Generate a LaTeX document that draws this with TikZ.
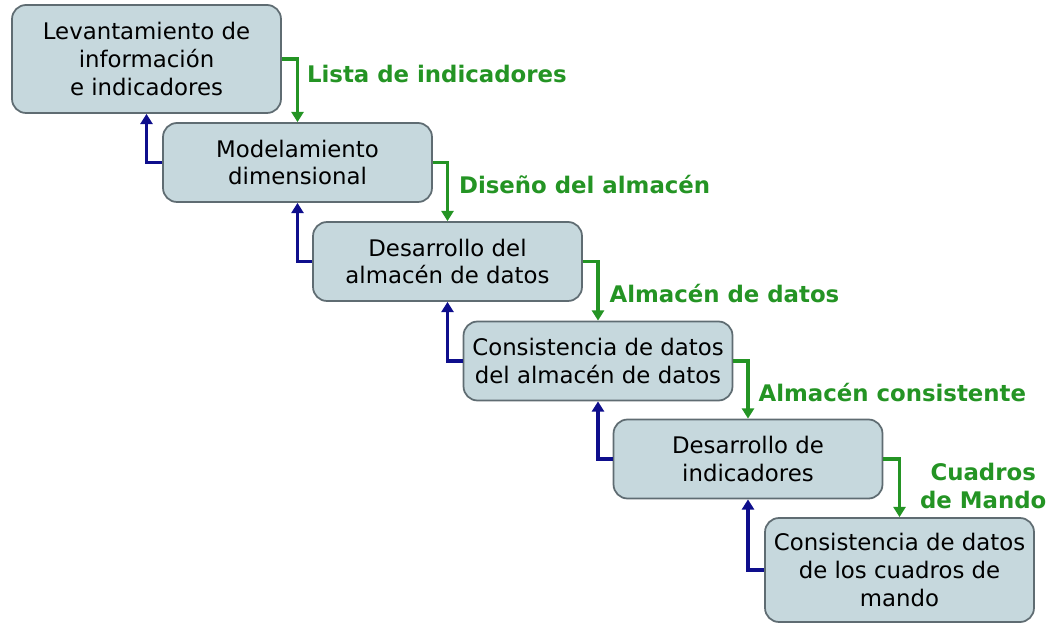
\documentclass[tikz,border=0pt]{standalone}
\usepackage{fontspec}
\setmainfont{DejaVu Sans}
\usetikzlibrary{arrows.meta}
\definecolor{boxfill}{RGB}{198,216,221}
\definecolor{boxline}{RGB}{95,108,114}
\definecolor{flowgreen}{RGB}{36,148,36}
\definecolor{backblue}{RGB}{14,14,140}

\begin{document}
\begin{tikzpicture}[x=0.02cm,y=-0.02cm,
	stage/.style={draw=boxline,line width=1pt,fill=boxfill,rounded corners=0.28cm,
		minimum width=5.38cm,minimum height=1.58cm,inner sep=2pt,align=center,
		font=\fontsize{13}{15.8}\selectfont},
	forward/.style={draw=flowgreen,line width=1.8pt,-{Triangle[length=5.8pt,width=6.8pt]}},
	backward/.style={draw=backblue,line width=1.8pt,-{Triangle[length=5.8pt,width=6.8pt]}},
	product/.style={text=flowgreen,anchor=west,inner sep=0pt,align=center,
		font=\bfseries\fontsize{13}{15.8}\selectfont}
	]
			\useasboundingbox (0,0) rectangle (1050,624);
			% etapas
			\node[stage,minimum height=2.16cm] (s1) at (146.5,59) {Levantamiento de\\informaci\'on\\e indicadores};
			\node[stage] (s2) at (297.5,162.5) {Modelamiento\\dimensional};
			\node[stage] (s3) at (447.5,261.5) {Desarrollo del\\almac\'en de datos};
			\node[stage] (s4) at (598,361) {Consistencia de datos\\del almac\'en de datos};
			\node[stage] (s5) at (748,459) {Desarrollo de\\indicadores};
			\node[stage,minimum height=2.08cm] (s6) at (899.5,570) {Consistencia de datos\\de los cuadros de\\mando};
			% productos
			\draw[forward] (s1.east) -| node[product,pos=0.62,xshift=0.16cm] {Lista de indicadores} (s2.north);
			\draw[forward] (s2.east) -| node[product,pos=0.69,xshift=0.2cm] {Dise\~no del almac\'en} (s3.north);
			\draw[forward] (s3.east) -| node[product,pos=0.77,xshift=0.2cm] {Almac\'en de datos} (s4.north);
			\draw[forward] (s4.east) -| node[product,pos=0.77,xshift=0.18cm] {Almac\'en consistente} (s5.north);
			\draw[forward] (s5.east) -| node[product,pos=0.73,xshift=0.38cm] {Cuadros\\de Mando} (s6.north);
			% retroalimentacion
			\foreach \a/\b in {s2/s1,s3/s2,s4/s3,s5/s4,s6/s5}
				\draw[backward] (\a.west) -| (\b.south);
		\end{tikzpicture}
\end{document}
